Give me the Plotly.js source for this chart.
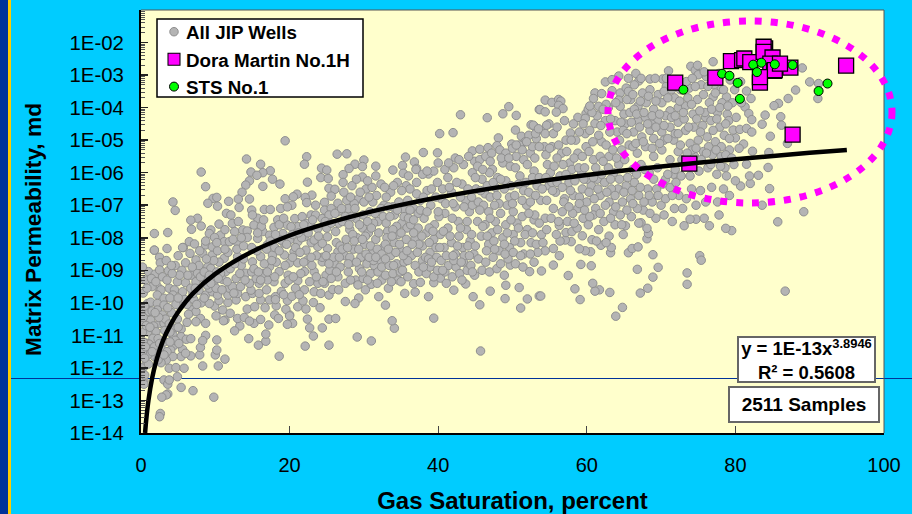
<!DOCTYPE html>
<html><head><meta charset="utf-8">
<script src="https://cdn.plot.ly/plotly-3.0.1.min.js"></script>
<style>html,body{margin:0;padding:0;background:#00CCFF;overflow:hidden}</style>
</head><body><div id="chart" style="width:912px;height:514px"></div>
<script>
// gas saturation %, log10 permeability pairs
const jipLow=[2.6,-13.4,2.5,-13.5,9.8,-12.9,7,-12.7,5.4,-12.6,3.6,-12.8,3.4,-12.83,2.8,-12.9,4.9,-12.27,3.1,-12.37,3.6,-12.5,3.8,-12.37,.4,-12.4,.4,-12.5,10.4,-11.94,8.3,-11.94,11.3,-11.73,18.6,-11.64,6.7,-11.63,7.9,-11.6,10,-11.6,10.2,-11.45,8,-11.37,10.2,-11.14,15.8,-11.3,16.8,-11.18,16.8,-10.96,14.5,-11.1,22.1,-11.33,25.3,-11.3,23.2,-11.02,24.4,-10.77,22.7,-10.77,22.4,-10.5,25.3,-10.5,26.2,-10.48,20,-10.37,20.4,-10.63,19.7,-10.66,17.2,-10.68,15.2,-10.63,13.3,-10.71,12.6,-10.86,8.7,-11,8.3,-11.16,11.3,-10.53];
const jipHighLeft=[19.4,-5.02,14.2,-5.58,16.1,-5.74,8.1,-5.98,14.8,-5.98,17.4,-5.94,16.4,-6,15.6,-6.08,8.7,-6.43,16.4,-6.42,14.6,-6.25,14.1,-6.38,13.6,-6.6,13.1,-6.81,14.6,-6.81,17.7,-6.2,18.7,-6.35,19.4,-6.8,9.7,-6.79,10.2,-6.76,11.8,-6.88,4.3,-6.9,4.6,-7.16,9,-6.94,10.3,-7.03,11.5,-7.25,13.2,-7.07,14.9,-7.15,16.6,-7.13,17.4,-7.13,18.8,-7.1,7.6,-7.4,6.7,-7.46,6.8,-7.74,1.8,-7.87,3.6,-7.84,15.7,-7.4,22.3,-5.51,22,-5.74,26.4,-5.43,24.3,-5.86,25,-5.92,22.4,-6.29,24.2,-6.15,21,-6.66,20.5,-6.74,23,-6.69,22.1,-6.76,25.2,-6.18,25.3,-6.48,26.1,-6.51,25.6,-6.72,24.7,-6.91,23.5,-7,22.3,-6.92,20.3,-7,19.7,-7.05];
const jipHighMid=[49.5,-3.97,48.7,-4.19,50.5,-4.24,46.6,-4.31,43,-4.22,42,-4.77,40.2,-4.8,53.6,-4.06,52.5,-4.53,53,-4.59,50.4,-4.69,48.1,-4.93,51.2,-4.88,38,-5.38,39.9,-5.39,35.6,-5.52,36.8,-5.67,27.7,-5.42,30,-5.61,28.8,-5.74,28,-5.87,29.8,-5.81,31.6,-5.8,33.9,-5.92,29.8,-6.13,27.2,-6.06,35.2,-5.78,35.3,-6.02,37.1,-5.87,38.7,-6.04,42.3,-5.55,44.6,-5.33,45.6,-5.28,46.7,-5.23,47.9,-5.17,49.9,-5.12,51.7,-5.05];
const jipLowMid=[45.7,-11.48,29.1,-11.05,31,-11.17,34.1,-10.78,33.8,-10.55,39.4,-10.47,45.6,-10.06,44.7,-9.81,38.7,-9.81,32.9,-10.07,32,-9.81,49,-9.87,51.1,-10.16,52,-9.88,50.9,-9.53,47,-9.64,49.1,-9.46,53.6,-9.79,42.1,-9.61,43.7,-9.42,39.4,-9.38,36.9,-9.67,35.5,-9.71,36.7,-9.41,37.6,-9.37,40.3,-9.24,29.3,-9.85,28.8,-10.02,27.5,-9.96,31,-9.43,32.4,-9.3,34.6,-9.3,52.3,-9.04,49.7,-8.84];
const jipLowRight=[86.7,-9.64,85.7,-7.51,89.2,-7.2,79.5,-7.78,78.7,-7.71,76.5,-7.63,74.7,-7.43,73.9,-7.43,73.1,-7.63,75.2,-8.55,75.4,-8.69,73.5,-9.08,73.5,-9.43,69.6,-8.91,68.9,-9.21,68.2,-9.55,67.2,-9.7,68.9,-8.52,66.8,-8.97,63.1,-9.68,64.8,-10.14,63.9,-10.41,61.7,-9.6,61.1,-9.64,60.8,-9.4,59.1,-9.9,58.4,-9.57,53.8,-9.79,57.5,-9.16,60.6,-8.86,59.2,-8.82,56.3,-8.55,68.1,-8.03,68.3,-7.87,65.2,-7.63,67.3,-7.54,65.6,-8.46,66.1,-8.33,66.9,-8.28,63.2,-8.46,63.3,-8.3,61.9,-8.23,60.5,-8.43,59.8,-8.4,59,-8.34,60.7,-8.06,59.4,-7.94,57.9,-8.12,57.1,-8.07,56.4,-8.1,57.2,-7.84,58,-7.81,56.3,-7.62,64.9,-7.9,68.1,-7.71,55.5,-8.84,55.5,-8.33,54.4,-8.4,53.9,-9.02];
const jipHighRight=[77,-2.59,74,-2.73,74.6,-2.85,75,-2.99,89,-2.78,88.1,-3.46,90,-3.21,91.2,-3.26,91.1,-3.72,87.1,-3.72,85.8,-3.87,85.2,-3.94,84,-4.23,86.1,-4.28,83.6,-4.51,86.2,-4.54,84.7,-4.88,80,-4.93,81.1,-5.12,87,-5.1,84.5,-5.38,84.4,-5.84,83.1,-6.08,81.5,-5.74,82,-6.33,84.6,-6.49,80.7,-6.41,82.3,-5.34,79.7,-4.69,80.6,-4.67,81.5,-4.64,82.2,-4.75,81.3,-3.98,81.8,-4.18,82.2,-4.37,82.1,-3.72,81.5,-3.49,78.8,-3.67,77,-3.67,78.1,-3.44,67,-3.18,68.5,-3.12,70.2,-3.12,71,-2.87,64.3,-3.03,62.5,-3.21,63.4,-3.14];
const jipLeftLowCloud=[1.8,-8.38,2.5,-8.6,2.6,-8.77,1,-9.04,1.9,-9.12,2.5,-8.99,3.7,-9.01,5,-8.55,5.7,-8.3,6.6,-8.48,6,-8.77,5.5,-9,4.9,-9.35,6,-9.38,2.2,-9.5,2.7,-9.6,2.2,-9.76,3.8,-9.55,4.5,-9.6,5.6,-9.66,4.3,-9.76,3.1,-9.86,.9,-10.02,1.3,-9.98,2.2,-10.02,3.1,-10.07,.4,-10.22,1.1,-10.27,2.2,-10.22,2.9,-10.37,1.3,-10.53,.2,-10.58,2.5,-10.63,3.1,-10.63,1.7,-10.71,2,-10.89,.9,-10.89,4.5,-10.78,5.4,-10.81,4.3,-10.99,5.4,-11.04,6.1,-11.12,6.7,-11.1,1.6,-11.09,.7,-11.24,1.1,-11.27,4.5,-11.3,5.6,-11.43,4,-11.45,2.7,-11.4,1.8,-11.35,5.4,-11.65,4.3,-11.65,3.4,-11.76,2.7,-11.84,1.8,-11.65,.9,-11.6,.4,-11.96,.1,-12,3.8,-12.01,4.7,-11.99,5.8,-12.01,1,-11.88,.5,-12.22,.3,-11.2,.2,-10.9,.5,-10.1,.3,-9.7,.6,-9.3,.2,-8.9,1.5,-9.5,3.3,-10.5,3.9,-10.9,3.1,-11.2,2.3,-11.1,3.5,-11.5,2.2,-11.55,4.9,-10.5,6.2,-10.6,6.9,-10.2,5.2,-10.1,5.9,-9.9,7.1,-9.9,4.1,-10.3];
const jipLeftMidCloud=[8.1,-10,7.4,-10.27,8,-10.48,7.4,-10.58,8.7,-10.63,9.9,-10.1,11,-10.22,12,-10.32,10.1,-10.4,11.1,-10.55,13,-10.48,13.9,-10.45,14.6,-10.56,16.1,-10.51,16.7,-10.15,14.3,-10.19,15.3,-10.12,18.2,-10.09,18,-10.37,18.5,-10.48,19.5,-10.2,20,-10.4,21.1,-10.12,22.2,-10.19,24.1,-10.15,21.8,-9.94,23.2,-9.99,19.7,-9.93,17.3,-9.91,18.1,-9.81,16.1,-9.91,12.8,-9.91,11.7,-9.99,10.5,-9.93,9.2,-10.02,8.7,-9.76,9.6,-9.66,7.8,-9.61,7,-9.71,10.3,-9.76,11.7,-9.76,13,-9.71,14.1,-9.81,15,-9.71,15.9,-9.71,22,-9.6,23.3,-9.66,24.2,-9.71,25.3,-9.76,24.7,-9.4,23.8,-9.4,25.8,-9.59,26.5,-9.2,21.1,-9.32,19.4,-9.4,17.9,-9.35,17,-9.3,15.9,-9.4,14.8,-9.61,11.9,-9.55,11,-9.28,9.9,-9.32,8.5,-9.28,7.4,-9.35,6.7,-9.15,7.6,-9.09,9,-8.89,7.4,-8.68,8.3,-8.48,9.6,-8.53,11.2,-8.63,13,-8.58,15,-8.74,16.1,-8.58,17.7,-8.53,19.3,-8.53,20.6,-8.43,22.2,-8.38,23.8,-8.27,25.1,-8.33,26.5,-8.43,20,-8.77,18.6,-9.04,17.3,-8.89,15.5,-9.25,14.1,-9.09,12.8,-9.25,11.4,-9.04,9.4,-8.94,23.3,-9.04,24.9,-9.15,22,-9.04,21.1,-8.77,22.4,-8.68,24.4,-8.74,26,-8.79,17.7,-8.22,19.3,-8.17,21.1,-8.12,22.9,-8.15,24.4,-8.17,10.2,-9.05,12,-8.95,13.5,-8.85,14.6,-9.4,16.4,-9.1,18.2,-8.75,19.8,-9.15,20.8,-9.55,23,-8.85,25.4,-9,26.6,-9.6,10.5,-8.75,12.3,-9.5,18.9,-9.65,16.9,-9.6,26.8,-8.9];
const jipLeftUpCloud=[8.1,-7.64,9.4,-7.76,10.5,-7.58,12.3,-7.56,12.6,-7.81,13.7,-7.76,14.3,-7.79,15.2,-7.61,16.4,-7.81,17.3,-7.92,17.9,-7.68,19.1,-7.87,19.7,-7.61,20.7,-7.41,21.7,-7.35,21.1,-7.66,20.2,-7.66,22.2,-7.56,22.9,-7.3,23.5,-7.3,24.7,-7.15,25.6,-7.1,26.5,-6.94,24.4,-7.41,25.3,-7.3,26.5,-7.2,18.8,-8.07,20,-8.07,22,-7.97,23.3,-8.07,25.1,-7.97,26.2,-7.81,9.2,-7.87,10.7,-7.92,9.9,-7.99,13,-8.15,14.3,-7.99,15.7,-8.02,17,-8.22,6.5,-8.12,7.2,-8.19,8.7,-8.22,11.2,-8.12,11.9,-8.12,3.5,-8.33,1.8,-8.38,5.6,-8.3,9.6,-8.28,23.8,-7.72,26.6,-7.55,25,-7.7,21.6,-8.0,18.4,-7.45,16.2,-7.65,12.9,-8.35,15.6,-8.4,18,-8.3,24.4,-8.6,26.3,-8.15,22.9,-7.65,20.8,-8.3];
const jipBand27to36=[27.3,-6.6,27.9,-7.1,28.4,-6.4,28.9,-7.4,29.3,-6.8,29.8,-7.7,30.3,-6.5,30.8,-7.2,31.2,-6.9,31.9,-7.5,32.3,-6.35,32.7,-7,33.2,-7.8,33.6,-6.6,34.1,-7.3,34.7,-6.9,35.1,-7.55,35.7,-6.4,27.1,-7.5,27.6,-8.05,28.1,-7.75,28.6,-8.35,29.1,-8.0,29.6,-8.6,30.1,-8.2,30.6,-7.85,31.1,-8.45,31.6,-8.05,32.1,-8.75,32.6,-8.3,33.1,-8.0,33.6,-8.55,34.1,-8.15,34.6,-7.9,35.1,-8.4,35.7,-8.05,27.4,-8.55,27.9,-9.05,28.4,-8.75,28.9,-9.3,29.4,-8.95,29.9,-9.25,30.4,-8.8,30.9,-9.1,31.4,-8.85,31.9,-9.05,32.4,-8.9,32.9,-9.15,33.4,-8.85,33.9,-9.1,34.4,-8.8,34.9,-9.05,35.4,-8.75,35.9,-9.2,27.7,-6.85,28.7,-6.95,29.9,-7.3,31.1,-6.45,32.6,-7.35,33.9,-7.05,35.5,-7.15,27.5,-9.4,30.2,-9.6,33.3,-9.55,28.3,-7.35,30.2,-7.95,31.3,-7.55,34.4,-7.65,35.8,-7.7,33.0,-6.75,29.0,-6.2,27.2,-6.3,31.7,-6.7,34.5,-6.3];
const jipBand36to45=[36.2,-6.5,36.7,-7.1,37.1,-6.3,37.6,-6.85,38.1,-7.4,38.5,-6.55,39,-7,39.5,-7.6,39.9,-6.3,40.4,-6.8,40.9,-7.25,41.3,-6.15,41.8,-6.6,42.3,-7.05,42.7,-7.5,43.2,-6.35,43.7,-6.85,44.2,-7.2,44.6,-6,45.1,-6.5,36.3,-7.6,36.9,-8.0,37.3,-7.7,37.9,-8.25,38.4,-7.85,38.9,-8.45,39.4,-8.05,39.8,-8.6,40.3,-7.9,40.8,-8.3,41.3,-7.7,41.8,-8.15,42.3,-8.5,42.8,-7.95,43.3,-8.3,43.8,-7.75,44.3,-8.1,44.8,-8.5,36.4,-8.55,36.9,-8.85,37.4,-9.05,37.9,-8.7,38.4,-9.1,38.9,-8.9,39.4,-9.2,39.9,-9,40.4,-8.7,40.9,-9.05,41.4,-8.85,41.9,-9.2,42.4,-8.9,42.9,-9.1,43.4,-8.75,43.9,-9.0,44.4,-8.85,44.9,-9.15,36.0,-6.1,37.9,-6.05,39.4,-5.95,40.9,-5.9,42.1,-5.85,43.4,-5.75,44.9,-5.65,40.1,-7.35,41.9,-7.4,43.9,-7.5,44.6,-7.0,37.3,-7.25,38.8,-7.7,36.2,-7.15,35.9,-8.7,41.1,-9.4,43.2,-9.3];
const jipBand45to55=[45.4,-6.9,45.9,-6.2,46.3,-6.65,46.8,-7.2,47.3,-5.9,47.7,-6.45,48.2,-6.95,48.7,-5.7,49.1,-6.25,49.6,-6.75,50.1,-7.2,50.5,-5.5,51,-6.1,51.5,-6.55,51.9,-7,52.4,-5.4,52.9,-5.95,53.3,-6.4,53.8,-6.85,54.3,-5.2,54.7,-5.75,45.3,-7.5,45.8,-7.95,46.3,-7.6,46.8,-8.2,47.2,-7.85,47.7,-7.5,48.2,-8.4,48.7,-8,49.1,-7.6,49.6,-8.3,50.1,-7.9,50.6,-7.55,51.1,-8.15,51.5,-8.5,52,-7.75,52.5,-8.15,52.9,-7.45,53.4,-8.45,53.9,-7.9,54.4,-7.4,45.4,-8.65,45.9,-9.0,46.4,-8.75,46.9,-9.05,47.4,-8.6,47.9,-8.95,48.4,-8.8,48.9,-9.15,49.4,-8.65,50.4,-8.8,51.4,-8.9,52.9,-8.75,45.6,-5.6,46.4,-5.5,47.2,-5.4,48.3,-5.3,49.1,-5.4,50,-5.25,50.9,-5.15,52.2,-4.85,53.2,-4.95,54.1,-4.7,54.9,-4.5,52.7,-5.2,51.5,-5.6,49.7,-5.8,48,-6.15,46.9,-6.0,54.9,-6.4,54.6,-6.85,53,-7.3];
const jipBand55to65=[54.4,-3.77,55.3,-3.84,56.2,-3.75,56.5,-3.8,56.2,-3.93,56.8,-4.03,53.7,-4.06,54.4,-4.13,55.9,-4.14,59.9,-4.18,58.8,-4.3,59.8,-4.33,61.1,-3.55,62,-3.57,60.9,-3.72,61.6,-3.96,52.8,-4.54,54.6,-4.54,53.1,-4.8,54.4,-4.8,55.5,-4.8,57.8,-4.78,58.5,-5,59.8,-4.8,61.1,-4.49,63.4,-3.48,64.5,-3.55,64.3,-3.77,64.5,-3.96,55.3,-5.2,56,-4.6,56.6,-5.4,57.2,-5,57.7,-5.7,58.2,-4.5,58.8,-5.4,59.3,-6,59.9,-5.2,60.4,-4.7,60.9,-5.6,61.4,-6.2,62,-5.05,62.5,-4.4,63,-5.5,63.6,-6,64.1,-4.75,64.7,-5.3,55.1,-6,55.8,-6.6,56.4,-6.1,57,-6.8,57.6,-6.3,58.2,-6.7,58.8,-7.1,59.4,-6.5,60,-6.9,60.6,-6.4,61.2,-7.1,61.8,-6.7,62.4,-6.3,63,-6.9,63.6,-7.2,64.2,-6.5,64.8,-6.9,55.2,-7.4,55.9,-7.9,56.7,-7.2,57.4,-7.5,58.1,-7.25,58.7,-7.7,59.5,-7.4,60.2,-7.6,60.9,-7.3,61.6,-7.75,62.3,-7.5,63,-7.95,63.8,-7.6,64.5,-7.3,62.6,-8.15,61.3,-8.1,62.9,-4.0,63.8,-4.4,65,-4.2,60.2,-4.05,61.4,-4.25,57,-4.4,58,-5.9,56,-5.55,62.9,-5.85,64.3,-5.75,59,-4.75,61.8,-5.5,55.4,-6.55,60,-6.2,63.3,-6.5];
const jipBand65to73=[65.3,-3.4,65.9,-3.75,66.4,-3.3,66.9,-3.95,67.5,-3.55,68,-3.85,68.5,-3.45,69,-4.05,69.6,-3.6,70.1,-3.85,70.7,-3.35,71.2,-4.1,71.8,-3.7,72.3,-4.0,65.2,-4.5,65.8,-4.15,66.3,-4.75,66.9,-4.4,67.4,-4.9,67.9,-4.3,68.5,-4.7,69,-4.95,69.5,-4.4,70.1,-4.75,70.6,-4.25,71.2,-4.6,71.7,-5,72.3,-4.45,65.1,-5.6,65.7,-5.15,66.2,-5.9,66.8,-5.4,67.3,-5.75,67.9,-5.2,68.4,-6,69,-5.5,69.5,-5.85,70.1,-5.3,70.6,-6.2,71.2,-5.6,71.7,-6.05,72.3,-5.35,65.3,-6.4,65.9,-6.8,66.4,-6.3,67,-6.7,67.6,-7.15,68.2,-6.5,68.8,-6.9,69.4,-6.5,70,-7.0,70.6,-6.8,71.2,-6.45,71.8,-7.1,72.4,-6.7,66,-7.35,66.8,-7.1,69.3,-7.4,70.4,-7.3,71.5,-7.5,65.6,-3.1,66.6,-2.95,69.2,-3.1,72.6,-3.45,67.3,-3.1,68.7,-4.5,70.4,-5.0,66.2,-5.2,66.4,-4.05,71.9,-5.9];
const jipBand73to90=[73.3,-3.95,73.8,-3.4,74.3,-4.2,74.9,-3.75,75.4,-3.3,76,-4.3,76.5,-3.85,77.1,-3.3,77.6,-4.15,78.2,-3.85,78.9,-4.2,79.6,-3.85,73.3,-4.7,73.9,-5.1,74.4,-4.6,75,-5.0,75.6,-4.55,76.2,-4.9,76.7,-4.4,77.3,-5.05,77.9,-4.6,78.5,-4.85,79.1,-4.4,73.3,-5.7,73.9,-6.1,74.5,-5.5,75.1,-5.95,75.7,-5.35,76.3,-5.85,76.9,-5.45,77.5,-6.05,78.1,-5.5,78.6,-5.85,79.2,-5.3,79.8,-5.75,80.5,-5.25,73.4,-6.8,74.1,-6.5,74.7,-7,75.3,-6.55,76,-6.9,76.8,-6.45,77.6,-6.9,78.4,-6.5,79.2,-6.7,80,-6.25,75.8,-7.4,77.8,-7.3,72.9,-7.1,74.9,-2.7,76.1,-3.05,77.8,-2.95,79.3,-3.15,80.7,-3.2,79.9,-3.45,80.8,-3.85,80.1,-4.3,78.7,-5.45,81.9,-6.1,83.6,-7.0];
const jipFillLeft=[.3,-10.45,.7,-10.7,.2,-11.5,.6,-11.35,1.2,-10.75,1.5,-10.25,.8,-9.55,1.4,-9.25,2,-9.35,2.9,-9.2,3.5,-9.3,3.9,-9.85,4.7,-10.05,3.6,-10.15,2.4,-10.45,1.9,-10.3,3.8,-10.65,4.6,-11.15,3.2,-10.85,2.5,-11.25,1.5,-11.5,.5,-11.7,2.3,-11.75,3.1,-11.6,3.9,-11.2,5.1,-11.25,6,-11.55,5,-10.75,6.4,-10.35,6.7,-9.55,7.5,-10.05,8.5,-9.85,9.2,-9.55,8,-9.2,8.9,-9.45,10.1,-9.55,10.9,-9.6,11.6,-9.35,12.5,-9.7,13.4,-9.5,14,-9.3,14.9,-9.05,13.8,-8.65,12.6,-8.8,11.7,-8.45,10.3,-8.4,9.8,-8.7,8.8,-8.65,7.8,-8.85,6.9,-8.9,6.3,-9.15,5.2,-9.15,4.2,-9.1,4.6,-8.85,3.4,-8.7,8.5,-9.05,10.7,-9.1,9.2,-9.15,7.9,-8.4,8.7,-8.1,10.2,-8.15,11.3,-8.35,12.4,-8.05,13.8,-8.25,14.9,-8.3,15.2,-8.95,16.6,-8.8,16.9,-8.35,15.8,-9.05,17,-9.05,18,-9.2,17.6,-8.7,18.6,-8.4,19.4,-8.85,20.4,-8.6,19.9,-9.3,21.5,-9.1,20.5,-9.2,18.1,-9.9,19.2,-9.75,20.3,-9.8,21.3,-9.75,22.7,-9.35,23.6,-9.2,24.5,-9.35,25.6,-9.25,25.9,-8.6,24.9,-8.55,23.6,-8.55,22.9,-8.6,21.4,-8.45,26.8,-8.25,26.3,-9.05,25.3,-8.8,21.9,-8.75,6.2,-10.05,7.3,-9.55,5,-9.85,4.1,-8.85,9.4,-9.4,10.4,-9.25,13.3,-9.1,16.1,-9.3];
const jipFill15to36=[11.3,-7.75,12.1,-7.3,13.1,-7.5,13.5,-8,15,-7.3,15.7,-7.85,16.5,-7.45,17.4,-8.1,18.1,-7.9,18.6,-7.6,19.2,-7.4,19.6,-8.2,20.4,-7.9,21.2,-7.85,21.9,-7.6,22.5,-7.85,23.1,-7.45,23.9,-7.95,24.8,-7.5,25.6,-7.55,26.1,-7.25,27,-7.1,27.5,-7.35,28,-7.6,28.5,-7.9,28.8,-7.1,29.4,-7.6,30,-6.9,30.5,-7.5,31,-7.7,31.5,-7.25,32,-7.85,32.3,-7.1,33,-7.55,33.5,-7.35,33.9,-7.75,34.5,-7.15,35,-7.85,35.4,-7.35,35.9,-6.85,26.7,-8.6,27.1,-8.35,27.8,-8.3,28.1,-8.6,28.7,-8.1,29.3,-8.35,29.8,-8.05,30.3,-8.5,30.9,-8.25,31.3,-8.7,31.8,-8.35,32.4,-8.5,32.9,-8.2,33.3,-8.35,33.8,-7.95,34.3,-8.45,34.8,-8.2,35.3,-8.55,35.8,-8.4,27.9,-8.8,29,-8.75,29.7,-9.05,30.7,-8.6,31.6,-8.6,32.9,-8.65,34,-8.85,35.2,-9,28.2,-9.3,29.2,-9.45,30.5,-9.3,31.8,-9.4,33.7,-9.35,35,-9.35,28.2,-6.75,29.5,-6.6,30.5,-6.25,31.6,-6.1,32.8,-6.45,34,-6.4,35.1,-6.55,33.3,-7.05,30.7,-6.75];
const jipFill36to55=[36,-7.4,36.7,-7.45,37.1,-6.65,37.6,-7.15,38,-6.75,38.5,-7.2,39.1,-6.5,39.7,-6.75,40,-7.2,40.6,-6.5,41,-6.95,41.5,-6.45,42,-6.95,42.5,-6.3,43,-6.75,43.5,-7.05,44,-6.5,44.5,-6.75,45,-6.15,36.7,-7.85,37.4,-8.2,37.8,-7.95,38.3,-8.6,38.8,-8.15,39.3,-7.8,39.7,-8.3,40.2,-8.3,40.7,-7.8,41.1,-8.55,41.6,-7.95,42.1,-8.7,42.6,-8.25,43,-7.7,43.5,-8.55,44,-8.25,44.5,-7.9,45,-8.25,36.5,-8.2,37.2,-8.45,38,-8.9,38.7,-8.65,39.1,-8.75,40.6,-9,42,-8.55,43.1,-8.75,44.2,-8.55,44.6,-9.05,37,-5.9,38.5,-5.95,40,-5.7,41.4,-5.7,42.8,-5.6,44.1,-5.5,45.3,-5.8,45.7,-6.55,46.1,-7,46.6,-6.4,47,-6.75,47.4,-6.3,47.9,-6.7,48.4,-6.2,48.9,-6.5,49.3,-7,49.8,-6.4,50.3,-6.7,50.8,-6.35,51.3,-6.85,51.8,-6.3,52.2,-6.6,52.7,-6.15,53.1,-6.7,53.6,-6.15,54,-6.5,54.5,-6.15,45.6,-7.15,46,-7.65,46.6,-7.95,47,-7.4,47.5,-8.1,48,-7.75,48.4,-7.25,48.9,-8.2,49.3,-7.85,49.8,-7.45,50.3,-8.1,50.8,-7.7,51.3,-7.35,51.7,-7.9,52.2,-7.25,52.7,-7.85,53.2,-8.2,53.6,-7.55,54.1,-8.15,54.6,-7.75,46.5,-8.4,47.6,-8.35,49,-8.5,50.1,-8.45,51.1,-8.55,52.4,-8.5,46,-5.9,47,-5.65,48.5,-5.55,49.5,-5.55,50.4,-5.85,51.3,-5.3,52,-5.75,53,-5.55,53.6,-5.2,54.5,-5.45,53.5,-4.65,51.9,-5.05,50.5,-5.15,47.6,-7,50,-6.95,52.4,-6.9];
const jipFill55to80=[55,-5.25,55.6,-5.8,56.2,-5.15,56.8,-5.75,57.3,-5.35,57.9,-5,58.3,-5.55,58.9,-5.85,59.4,-5.5,59.7,-5.85,60.3,-5.35,60.8,-5.05,61.2,-5.85,61.6,-4.85,62.2,-5.65,62.6,-5.15,63.1,-4.75,63.5,-5.3,64,-5.55,64.4,-5.0,64.9,-4.7,61.9,-4.55,62.6,-3.9,63.2,-4.35,63.9,-3.85,64.6,-4.45,65.4,-3.75,60.7,-4.15,59.5,-4.5,60.4,-3.95,62.2,-4.05,55.3,-6.3,56,-6.3,56.7,-6.45,57.2,-6.05,57.8,-6.55,58.4,-6.25,59,-6.75,59.6,-6.2,60.3,-6.6,60.9,-6.15,61.5,-6.5,62,-6.05,62.7,-6.6,63.2,-6.2,63.8,-6.7,64.4,-6.2,65,-6.6,65.5,-6.15,66.1,-6.55,66.7,-6.05,67.2,-6.45,67.8,-5.9,68.4,-6.7,69,-6.2,69.6,-6.7,70.2,-6.35,70.9,-6.05,71.5,-6.7,72,-6.3,72.7,-6.1,55.5,-7.1,56.2,-7.5,56.9,-6.9,57.6,-7.05,58.3,-7.55,59,-6.95,59.7,-7.15,60.4,-7.35,61,-6.8,61.8,-7.25,62.5,-7,63.2,-7.4,63.9,-7.05,64.7,-7.6,65.4,-7.15,66.2,-6.95,67,-7.55,67.7,-6.9,68.5,-7.25,65.4,-4.8,66,-4.45,66.6,-5.1,67.1,-4.6,67.6,-5.05,68.2,-4.5,68.8,-5.25,69.3,-4.6,69.8,-5.1,70.4,-4.55,70.9,-4.95,71.4,-4.3,71.9,-4.8,72.6,-5.15,73.1,-4.35,73.7,-4.6,74.2,-5.3,74.8,-4.35,75.3,-4.75,75.9,-4.15,76.4,-5.2,77,-4.7,77.5,-4.35,78.1,-5.2,78.7,-4.5,79.2,-4.95,65.6,-3.5,66.2,-3.6,66.7,-4.2,67.2,-3.8,67.7,-4.15,68.3,-3.65,68.8,-4.25,69.3,-3.8,69.8,-4.2,70.4,-3.5,70.9,-3.7,71.4,-3.45,71.9,-4.25,72.5,-3.8,73,-4.15,73.6,-3.7,74.1,-3.9,74.6,-3.35,75.2,-4.1,75.7,-3.6,76.3,-3.35,76.8,-4.05,77.3,-3.55,77.9,-4.0,78.4,-3.45,79,-3.95,72.8,-5.6,73.5,-5.4,74.1,-5.75,74.7,-5.25,75.4,-5.6,76.1,-5.4,76.7,-5.75,77.4,-5.3,78,-5.8,78.8,-6.1,79.5,-5.55,72.3,-4.8,73.4,-3.2,72,-3.35,70.7,-3.1,74.2,-3.1,75.8,-2.9];
const doraGas=[71.9,77.3,73.8,94.9,87.7,83.3,84,79.4,80.9,81.2,82,83.8,83.8,85,84.7,85.2,87.4,85.3,86,83.3];
const doraLogPerm=[-3.23,-3.08,-5.72,-2.71,-4.83,-3.23,-2.18,-2.57,-2.54,-2.49,-2.6,-2.13,-2.29,-2.46,-2.65,-2.87,-2.77,-2.85,-2.65,-3.06];
const stsGas=[73,78.2,79.2,80.3,80.6,82.4,83.5,82.9,85.3,87.7,91.2,92.4];
const stsLogPerm=[-3.45,-2.96,-3.02,-3.24,-3.73,-2.68,-2.62,-2.91,-2.67,-2.69,-3.49,-3.26];
const trendGas=[.55,.7,1,1.5,2,3,4,5,7,10,15,20,25,30,35,40,50,60,70,80,90,95];
const trendLogPerm=[-14,-13.6,-13,-12.31,-11.83,-11.14,-10.66,-10.28,-9.71,-9.11,-8.42,-7.93,-7.56,-7.25,-6.99,-6.76,-6.38,-6.07,-5.81,-5.59,-5.39,-5.3];
const xTickVals=[0,20,40,60,80,100];
const yTickExps=[-14,-13,-12,-11,-10,-9,-8,-7,-6,-5,-4,-3,-2];
const yTickText=['1E-14','1E-13','1E-12','1E-11','1E-10','1E-09','1E-08','1E-07','1E-06','1E-05','1E-04','1E-03','1E-02'];

const P=v=>Math.pow(10,v);
const jipAll=[].concat(jipLow,jipHighLeft,jipHighMid,jipLowMid,jipLowRight,jipHighRight,jipLeftLowCloud,jipLeftMidCloud,jipLeftUpCloud,jipBand27to36,jipBand36to45,jipBand45to55,jipBand55to65,jipBand65to73,jipBand73to90,jipFillLeft,jipFill15to36,jipFill36to55,jipFill55to80);
const jx=[],jy=[];for(let i=0;i<jipAll.length;i+=2){jx.push(jipAll[i]);jy.push(P(jipAll[i+1]));}
const L=141,R=884,T=10,B=433,W=R-L,H=B-T;
const px=v=>(v-L)/W, py=v=>(B-v)/H;
const traces=[
{type:'scatter',mode:'markers',name:'All JIP Wells',x:jx,y:jy,marker:{size:8.5,color:'#B4B4B4',line:{color:'#8F8F8F',width:1}}},
{type:'scatter',mode:'markers',name:'Dora Martin No.1H',x:doraGas,y:doraLogPerm.map(P),marker:{symbol:'square',size:15,color:'#FF00FF',line:{color:'#000',width:1.3}}},
{type:'scatter',mode:'markers',name:'STS No.1',x:stsGas,y:stsLogPerm.map(P),marker:{size:9,color:'#00FF00',line:{color:'#000',width:1}}},
{type:'scatter',mode:'lines',showlegend:false,x:trendGas,y:trendLogPerm.map(P),line:{color:'#000',width:4.5,shape:'spline',smoothing:.8}}
];
const layout={
width:912,height:514,paper_bgcolor:'#00CCFF',plot_bgcolor:'#FFFFCC',
margin:{l:L,r:912-R,t:T,b:514-B,pad:0},
font:{family:'"Liberation Sans",Arial,sans-serif',color:'#000'},
showlegend:true,
legend:{x:px(146),y:py(13),xanchor:'left',yanchor:'top',bgcolor:'rgba(0,0,0,0)',borderwidth:0,font:{size:18.8,weight:700},traceorder:'normal',itemclick:false},
xaxis:{range:[0,100],tickvals:xTickVals,ticks:'inside',ticklen:7,tickwidth:1,tickcolor:'#444',showgrid:false,zeroline:false,showline:true,linecolor:'#000',linewidth:2,tickfont:{size:20},ticklabelstandoff:13,title:{text:'Gas Saturation, percent',font:{size:24,weight:700},standoff:22},automargin:false},
yaxis:{type:'log',range:[-14,-1],tickvals:yTickExps.map(P),ticktext:yTickText,ticks:'inside',ticklen:7,tickwidth:1.5,tickcolor:'#222',showgrid:false,zeroline:false,showline:true,linecolor:'#000',linewidth:2,tickfont:{size:20.4},ticklabelstandoff:11,
minor:{ticks:'inside',ticklen:4,tickwidth:1,tickcolor:'#555',showgrid:false,dtick:'D1'},title:{text:'Matrix Permeability, md',font:{size:22.7,weight:700},standoff:22},automargin:false},
shapes:[
{type:'rect',xref:'paper',yref:'paper',x0:px(0),x1:px(8),y0:py(0),y1:py(514),fillcolor:'#003399',line:{width:0},layer:'below'},
{type:'rect',xref:'paper',yref:'paper',x0:px(8),x1:px(11),y0:py(0),y1:py(514),fillcolor:'#FFCC00',line:{width:0},layer:'below'},
{type:'line',xref:'paper',yref:'paper',x0:px(11),x1:px(912),y0:py(378.5),y1:py(378.5),line:{color:'#003399',width:1},layer:'below'},
{type:'line',xref:'paper',yref:'paper',x0:0,x1:1,y0:1,y1:1,line:{color:'#555',width:1},layer:'above'},
{type:'line',xref:'paper',yref:'paper',x0:1,x1:1,y0:0,y1:1,line:{color:'#555',width:1},layer:'above'},
{type:'rect',xref:'paper',yref:'paper',x0:px(157),x1:px(363),y0:py(97),y1:py(19),fillcolor:'#fff',line:{color:'#000',width:1.5},layer:'above'},
{type:'circle',xref:'paper',yref:'paper',x0:px(608),x1:px(892),y0:py(203),y1:py(21),line:{color:'#FF00FF',width:7,dash:'7px,9px'},layer:'above'}
],
annotations:[
{xref:'paper',yref:'paper',x:px(737),y:py(336),xanchor:'left',yanchor:'top',width:133,height:41,showarrow:false,align:'center',bgcolor:'#fff',bordercolor:'#666',borderwidth:2,borderpad:1,font:{size:18.5,weight:700},text:'y = 1E-13x<sup>3.8946</sup><br>R² = 0.5608'},
{xref:'paper',yref:'paper',x:px(728),y:py(386),xanchor:'left',yanchor:'top',width:146,height:31,showarrow:false,align:'center',bgcolor:'#fff',bordercolor:'#666',borderwidth:2,borderpad:1,font:{size:19,weight:700},text:'2511 Samples'}
]};
Plotly.newPlot('chart',traces,layout,{displayModeBar:false,staticPlot:true}).then(()=>{
  document.querySelectorAll('.legend .legendpoints').forEach(g=>g.setAttribute('transform','translate(8,0)'));
  const sq=document.querySelectorAll('.legend .traces')[1];
  if(sq){const p=sq.querySelector('.legendpoints path');if(p){p.setAttribute('transform',(p.getAttribute('transform')||'')+' scale(0.8)');}}
  const yt=document.querySelector('.ytitle');
  if(yt){yt.setAttribute('transform','translate(0,8) '+(yt.getAttribute('transform')||''));}
});
</script></body></html>
